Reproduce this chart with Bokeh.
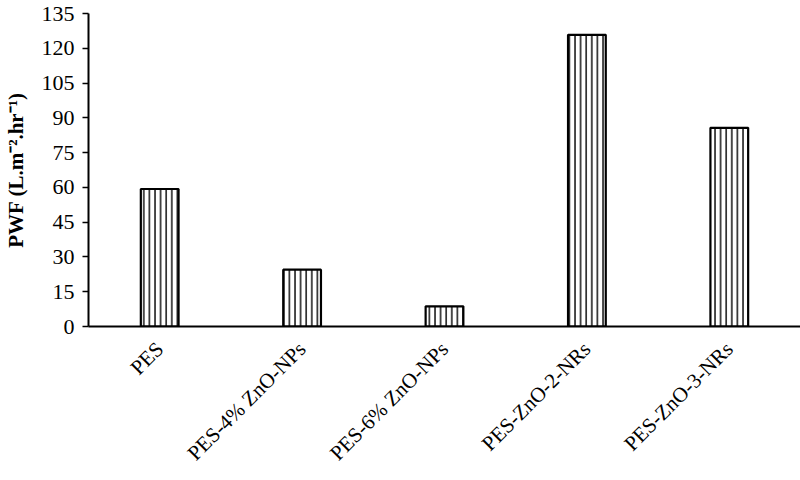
import math
from bokeh.plotting import figure
from bokeh.models import ColumnDataSource, FactorRange
from bokeh.embed import file_html
from bokeh.resources import INLINE

categories = ["PES", "PES-4% ZnO-NPs", "PES-6% ZnO-NPs", "PES-ZnO-2-NRs", "PES-ZnO-3-NRs"]
pwf = [59.3, 24.5, 8.7, 125.8, 85.7]
y_ticks = [0, 15, 30, 45, 60, 75, 90, 105, 120, 135]

src = ColumnDataSource(dict(cat=categories, val=pwf))

p = figure(width=800, height=480, output_backend="svg", toolbar_location=None,
           x_range=FactorRange(*categories, range_padding=0), y_range=(0, 135),
           min_border_left=83, min_border_right=0, min_border_top=13, min_border_bottom=154)
p.outline_line_color = None
p.xgrid.grid_line_color = None
p.ygrid.grid_line_color = None

p.vbar(x="cat", top="val", width=0.265, source=src, fill_color="white",
       line_color="black", line_width=2.2,
       hatch_pattern="vertical_line", hatch_color="black", hatch_weight=1.4, hatch_scale=5.6)

font = "Liberation Serif"
p.yaxis.ticker = y_ticks
p.yaxis.minor_tick_line_color = None
p.yaxis.major_tick_out = 6
p.yaxis.major_tick_in = 0
p.yaxis.major_tick_line_width = 1.5
p.yaxis.major_tick_line_color = "black"
p.yaxis.axis_line_width = 2
p.yaxis.axis_line_color = "black"
p.yaxis.major_label_text_font = font
p.yaxis.major_label_text_font_size = "22px"
p.yaxis.major_label_text_color = "black"
p.yaxis.major_label_standoff = 8
p.yaxis.axis_label = "PWF (L.m⁻².hr⁻¹)"
p.yaxis.axis_label_text_font = font
p.yaxis.axis_label_text_font_size = "21px"
p.yaxis.axis_label_text_font_style = "bold"
p.yaxis.axis_label_text_color = "black"
p.yaxis.axis_label_standoff = 11

p.xaxis.axis_line_width = 2
p.xaxis.axis_line_color = "black"
p.xaxis.major_tick_line_color = None
p.xaxis.minor_tick_line_color = None
p.xaxis.major_label_orientation = math.pi / 4
p.xaxis.major_label_text_font = font
p.xaxis.major_label_text_font_size = "21px"
p.xaxis.major_label_text_color = "black"
p.xaxis.major_label_standoff = 13

open("out.html", "w").write(file_html(p, INLINE))
